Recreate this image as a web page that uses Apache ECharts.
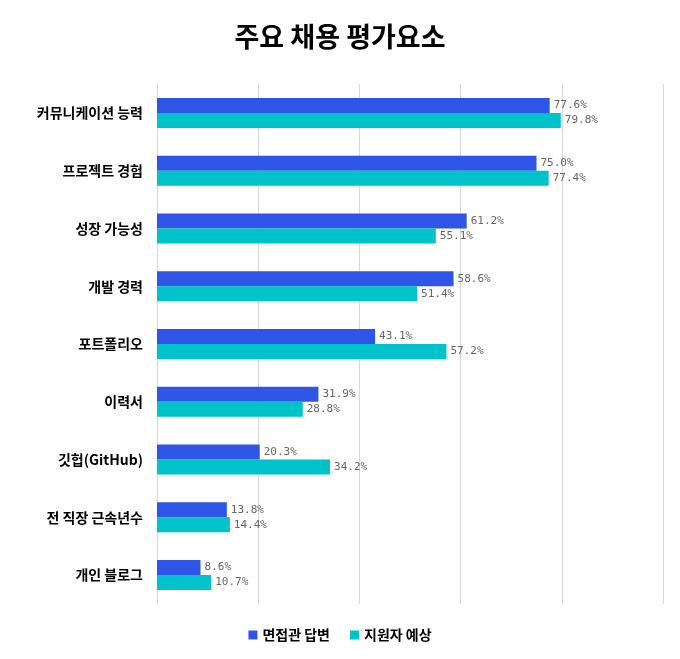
<!DOCTYPE html>
<html>
<head>
<meta charset="utf-8">
<script src="https://cdn.jsdelivr.net/npm/echarts@6/dist/echarts.min.js"></script>
<style>body{margin:0;background:#fff}#main{width:680px;height:659px}</style>
</head>
<body>
<div id="main"></div>
<script>
var categories = ['커뮤니케이션 능력','프로젝트 경험','성장 가능성','개발 경력','포트폴리오','이력서','깃헙(GitHub)','전 직장 근속년수','개인 블로그'];
var interviewer = [77.6, 75.0, 61.2, 58.6, 43.1, 31.9, 20.3, 13.8, 8.6];
var applicant = [79.8, 77.4, 55.1, 51.4, 57.2, 28.8, 34.2, 14.4, 10.7];

var chart = echarts.init(document.getElementById('main'));
var lbl = {show:true, position:'right', distance:4, color:'#666', fontSize:11,
  fontFamily:'DejaVu Sans Mono', formatter:function(p){return p.value.toFixed(1)+'%';}};
chart.setOption({
  animation:false,
  textStyle:{fontFamily:'Noto Sans CJK KR'},
  title:{text:'주요 채용 평가요소', left:'center', top:18,
    textStyle:{fontSize:27, fontWeight:'bold', color:'#000'}},
  legend:{bottom:12, left:'center', itemWidth:9, itemHeight:9, itemGap:20, icon:'rect',
    textStyle:{fontSize:14, fontWeight:'bold', color:'#000'}},
  grid:{left:157, right:17, top:84, bottom:55},
  xAxis:{type:'value', min:0, max:100, interval:20,
    axisLabel:{show:false}, axisLine:{show:false}, axisTick:{show:false},
    splitLine:{lineStyle:{color:'#d9d9d9'}}},
  yAxis:{type:'category', inverse:true, data:categories,
    axisLine:{show:false}, axisTick:{show:false},
    axisLabel:{fontSize:14, fontWeight:'bold', color:'#000', margin:14}},
  series:[
    {name:'면접관 답변', type:'bar', data:interviewer, barWidth:15, barGap:'0%',
      itemStyle:{color:'#2e55e6'}, label:lbl},
    {name:'지원자 예상', type:'bar', data:applicant, barWidth:15,
      itemStyle:{color:'#00c2c9'}, label:lbl}
  ]
});
</script>
</body>
</html>
